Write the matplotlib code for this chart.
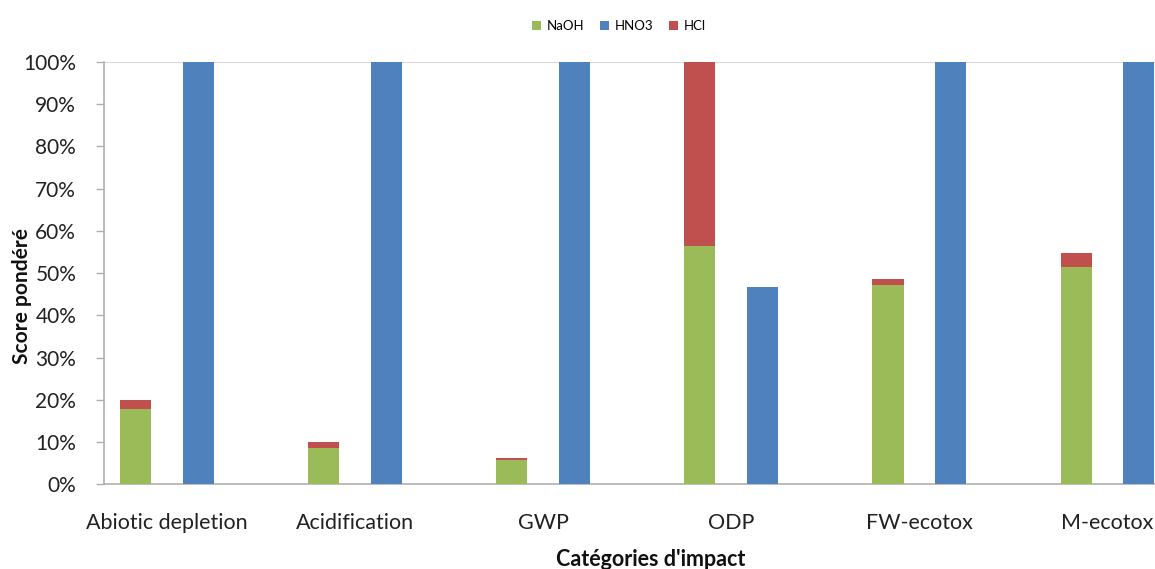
import numpy as np
import matplotlib.pyplot as plt
from matplotlib.ticker import PercentFormatter

plt.rcParams['font.family'] = ['Lato', 'DejaVu Sans']

categories = ['Abiotic depletion', 'Acidification', 'GWP', 'ODP', 'FW-ecotox', 'M-ecotox']
naoh = [17.8, 8.5, 5.7, 56.4, 47.2, 51.5]
hcl = [2.1, 1.5, 0.5, 43.6, 1.5, 3.2]
hno3 = [100, 100, 100, 46.6, 100, 100]

green = '#9bbb59'
blue = '#4f81bd'
red = '#c0504d'

fig = plt.figure(figsize=(11.55, 5.69), dpi=100)
ax = fig.add_axes([0.090, 0.149, 0.910, 0.742])

x = np.arange(len(categories))
w = 0.165
off = 0.166
ax.bar(x - off, naoh, w, color=green, label='NaOH', zorder=3)
ax.bar(x + off, hno3, w, color=blue, label='HNO3', zorder=3)
ax.bar(x - off, hcl, w, bottom=naoh, color=red, label='HCl', zorder=3)

ax.set_xlim(-0.336, 5.254)
ax.set_ylim(0, 100)
ax.set_yticks(np.arange(0, 101, 10))
ax.yaxis.set_major_formatter(PercentFormatter(decimals=0))
ax.set_xticks(x)
ax.set_xticklabels(categories)
ax.tick_params(axis='x', length=0, pad=21, labelsize=15.5, colors='#222222')
ax.tick_params(axis='y', length=6, width=1, color='#b0b0b0', pad=14, labelsize=15, labelcolor='#222222')

for s in ['top', 'right']:
    ax.spines[s].set_visible(False)
for s in ['left', 'bottom']:
    ax.spines[s].set_color('#b0b0b0')
    ax.spines[s].set_linewidth(1.2)
ax.axhline(100, color='#d9d9d9', lw=1.5, zorder=1)

fig.text(0.019, 0.480, 'Score pondéré', rotation=90, ha='center', va='center',
         fontsize=15, fontweight='bold', color='#111111')
fig.text(0.563, 0.016, "Catégories d'impact", ha='center', va='center',
         fontsize=15.5, fontweight='bold', color='#111111')

ax.legend(loc='center', bbox_to_anchor=(0.49, 1.085), ncol=3, frameon=False,
          fontsize=9.5, handlelength=0.7, handleheight=0.7, columnspacing=1.2, handletextpad=0.4)

fig.savefig('out.png', dpi=100)
